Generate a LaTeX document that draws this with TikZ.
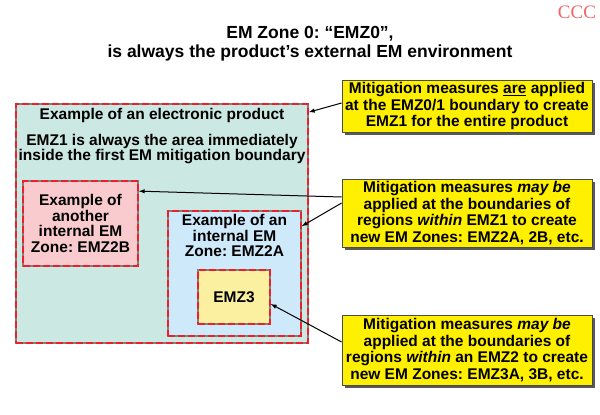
\documentclass[tikz,border=0pt]{standalone}
\usepackage{fontspec}
\setmainfont{Liberation Sans}
\newfontfamily\cccfont{Liberation Serif}
\usetikzlibrary{shadows,positioning}
\frenchspacing
\definecolor{productfill}{RGB}{204,232,226}
\definecolor{pinkfill}{RGB}{249,203,206}
\definecolor{bluefill}{RGB}{206,233,250}
\definecolor{emzfill}{RGB}{250,240,160}
\definecolor{calloutfill}{RGB}{255,240,0}
\definecolor{zonered}{RGB}{236,32,40}
\tikzset{
  zone/.style={draw=gray, line width=1.7pt, inner sep=0pt, postaction={draw=zonered, dash pattern=on 7pt off 3pt}},
  txt/.style={align=center, inner sep=0pt, font=\fontsize{15.5}{15.7}\selectfont\bfseries},
  callout/.style={txt, fill=calloutfill, draw=gray!60!black, line width=0.8pt, minimum width=250pt, font=\fontsize{15.5}{16.5}\selectfont\bfseries, drop shadow={shadow xshift=2.5pt, shadow yshift=-2.5pt, fill=black!65, opacity=1}}
}
\begin{document}
\begin{tikzpicture}[x=1pt, y=-1pt, >=latex]
      \useasboundingbox (0,0) rectangle (600,415);
      \node[font=\cccfont\fontsize{19}{19}\selectfont, text=zonered!70, inner sep=0pt] (ccc) at (577,12) {CCC};
      \node[txt, font=\fontsize{17.5}{19}\selectfont\bfseries] (title) at (310,44) {EM Zone 0: “EMZ0”,\\is always the product’s external EM environment};
      \node[zone, fill=productfill, minimum width=292pt, minimum height=239pt] (product) at (162,223.5) {};
      \node[txt, anchor=north] (producttitle) at ([yshift=-5pt]product.north) {Example of an electronic product};
      \node[txt, below=11pt of producttitle, font=\fontsize{15.5}{15.5}\selectfont\bfseries] (emzone1) {EMZ1 is always the area immediately\\inside the first EM mitigation boundary};
      \node[zone, fill=pinkfill, minimum width=115pt, minimum height=85pt, txt] (zone2b) at (80.5,223.5) {Example of\\another\\internal EM\\Zone: EMZ2B};
      \node[zone, fill=bluefill, minimum width=133pt, minimum height=125pt] (zone2a) at (234.5,273.5) {};
      \node[txt, anchor=north] (zone2atext) at ([yshift=-4pt]zone2a.north) {Example of an\\internal EM\\Zone: EMZ2A};
      \node[zone, fill=emzfill, minimum width=72pt, minimum height=54pt, txt] (zone3) at (234,297) {EMZ3};
      \node[callout, minimum height=52pt] (c1) at (467,106) {Mitigation measures \underline{are} applied\\at the EMZ0/1 boundary to create\\EMZ1 for the entire product};
      \node[callout, minimum height=68pt] (c2) at (467,213) {Mitigation measures \textit{may be}\\applied at the boundaries of\\regions \textit{within} EMZ1 to create\\new EM Zones: EMZ2A, 2B, etc.};
      \node[callout, minimum height=70pt] (c3) at (467,350) {Mitigation measures \textit{may be}\\applied at the boundaries of\\regions \textit{within} an EMZ2 to create\\new EM Zones: EMZ3A, 3B, etc.};
      \draw[->, line width=1pt] ([yshift=3pt]c1.west) -- ([yshift=-9pt]product.north east);
      \draw[->, line width=1pt] ([yshift=16pt]c2.west) -- ([yshift=-11pt]zone2b.north east);
      \draw[->, line width=1pt] ([yshift=10pt]c2.west) -- ([yshift=-16pt]zone2a.north east);
      \draw[->, line width=1pt] ([yshift=8pt]c3.west) -- ([yshift=-7pt]zone3.east);
    \end{tikzpicture}
\end{document}
